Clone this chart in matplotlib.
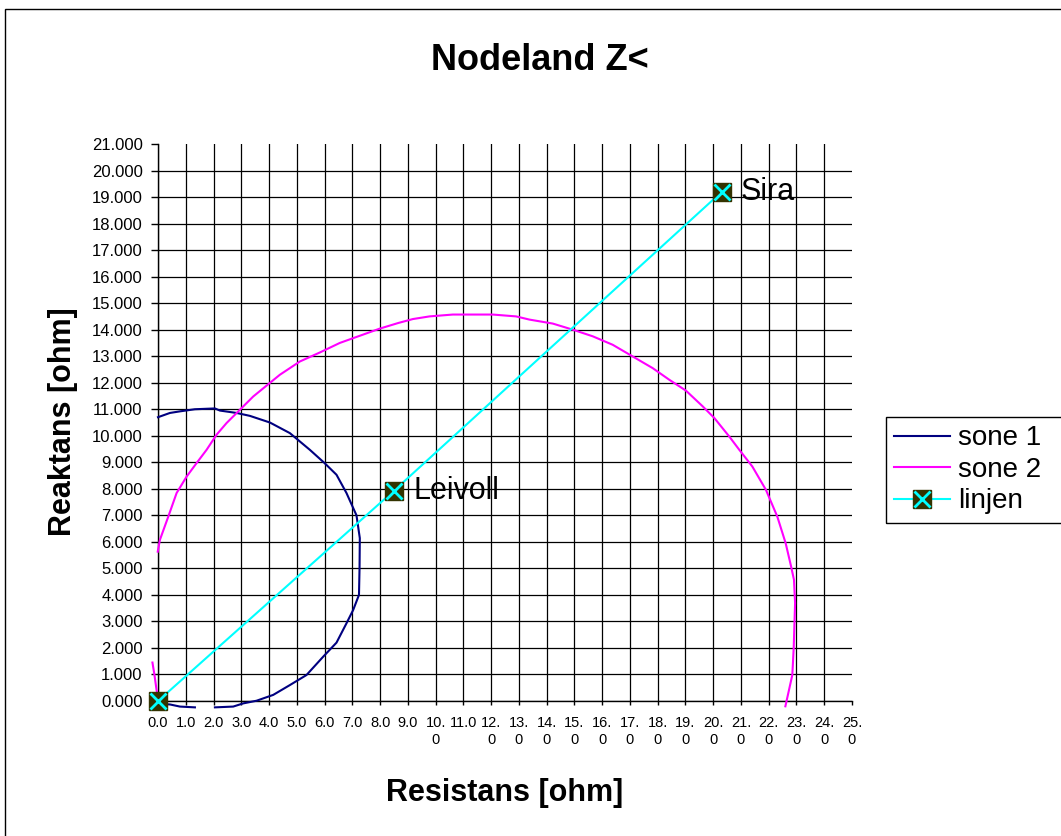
import numpy as np
import matplotlib
matplotlib.use("Agg")
import matplotlib.pyplot as plt
from matplotlib.patches import Rectangle
from matplotlib.lines import Line2D

plt.rcParams['font.family'] = ['Liberation Sans', 'DejaVu Sans']

# sone 1 (navy) - R, X i ohm
sone1_r = [0.00, 0.43, 0.79, 1.33, 2.05, 2.23, 2.83, 3.31, 4.03, 4.75, 5.47, 6.00, 6.43, 6.79,
           7.15, 7.27, 7.26, 7.24, 7.03, 6.79, 6.43, 5.95, 5.35, 4.75, 4.15, 3.55, 3.07, 2.71,
           2.05, np.nan, 1.33, 0.79, 0.43, 0.07]
sone1_x = [10.70, 10.86, 10.92, 11.00, 11.03, 10.95, 10.86, 10.75, 10.50, 10.10, 9.47, 8.97, 8.53, 7.84,
           7.00, 6.14, 5.00, 4.00, 3.43, 2.93, 2.20, 1.67, 0.98, 0.60, 0.23, 0.01, -0.09, -0.21,
           -0.24, np.nan, -0.24, -0.21, -0.13, -0.11]

# sone 2 (magenta)
sone2_r = [-0.01, 0.07, 0.37, 0.67, 1.03, 1.39, 1.75, 2.11, 2.47, 2.95, 3.43, 3.91, 4.39, 5.11,
           5.83, 6.55, 7.27, 7.99, 8.65, 9.18, 9.78, 10.62, 12.06, 12.90, 13.38, 14.22, 14.94,
           15.66, 16.38, 17.10, 17.82, 18.42, 19.02, 19.62, 20.04, 20.58, 20.94, 21.41, 21.90,
           22.31, 22.61, 22.80, 22.91, 22.95, 22.90, 22.85, 22.60, np.nan, -0.20, -0.13, -0.05, 0.02]
sone2_x = [5.63, 6.08, 6.95, 7.84, 8.46, 8.97, 9.47, 10.04, 10.48, 10.98, 11.48, 11.89, 12.30, 12.80,
           13.14, 13.50, 13.77, 14.04, 14.25, 14.40, 14.50, 14.57, 14.57, 14.50, 14.38, 14.23, 14.00,
           13.75, 13.43, 12.99, 12.55, 12.11, 11.70, 11.11, 10.67, 9.97, 9.47, 8.84, 7.96,
           6.95, 5.95, 5.10, 4.57, 3.69, 2.00, 0.98, -0.20, np.nan, 1.45, 1.00, 0.40, 0.00]

# linjen
linje_r = [0.0, 8.49, 20.30]
linje_x = [0.0, 7.92, 19.19]
linje_navn = ["", "Leivoll", "Sira"]

xticks = np.arange(0, 26)
xlabels = ["0.0", "1.0", "2.0", "3.0", "4.0", "5.0", "6.0", "7.0", "8.0", "9.0",
           "10.\n0", "11.0", "12.\n0", "13.\n0", "14.\n0", "15.\n0", "16.\n0", "17.\n0",
           "18.\n0", "19.\n0", "20.\n0", "21.\n0", "22.\n0", "23.\n0", "24.\n0", "25.\n0"]
yticks = np.arange(0, 22)

fig = plt.figure(figsize=(10.61, 8.36), dpi=100)
ax = fig.add_axes([158/1061, 1-701/836, (852-158)/1061, (701-144)/836])

ax.plot(sone1_r, sone1_x, color='#000080', lw=1.5, clip_on=False, zorder=3)
ax.plot(sone2_r, sone2_x, color='#FF00FF', lw=1.5, clip_on=False, zorder=3)
l1, = ax.plot(linje_r, linje_x, color='#00FFFF', lw=1.5, marker='s', ms=13.5,
              mfc='#333300', mec='#333300', mew=1, clip_on=False, zorder=4)
l2, = ax.plot(linje_r, linje_x, ls='none', marker='x', ms=11, mec='#00FFFF', mew=2,
              clip_on=False, zorder=5)

for r, x, navn in zip(linje_r, linje_x, linje_navn):
    if navn:
        ax.annotate(navn, (r, x), xytext=(14, 0), textcoords='offset points',
                    fontsize=22, va='center', ha='left')

ax.set_xlim(0, 25)
ax.set_ylim(0, 21)
ax.set_xticks(xticks)
ax.set_xticklabels(xlabels, fontsize=10.5, linespacing=1.25)
ax.set_yticks(yticks)
ax.set_yticklabels(["%.3f" % v for v in yticks], fontsize=12)
ax.tick_params(axis='x', direction='out', length=3, width=1, pad=8)
ax.tick_params(axis='y', direction='out', length=5, width=1, pad=6)
ax.grid(True, color='black', lw=0.9)
ax.get_xgridlines()[-1].set_visible(False)
ax.get_ygridlines()[-1].set_visible(False)
for s in ['top', 'right']:
    ax.spines[s].set_visible(False)
for s in ['left', 'bottom']:
    ax.spines[s].set_linewidth(1)

fig.text(540/1061, 1-60/836, "Nodeland Z<", fontsize=26, fontweight='bold', ha='center', va='center')
fig.text(505/1061, 1-801/836, "Resistans [ohm]", fontsize=22, fontweight='bold', ha='center', va='baseline')
fig.text(63/1061, 1-422/836, "Reaktans [ohm]", fontsize=22, fontweight='bold', ha='center', va='center',
         rotation=90)

h1 = Line2D([], [], color='#000080', lw=1.5)
h2 = Line2D([], [], color='#FF00FF', lw=1.5)
leg = fig.legend([h1, h2, (l1, l2)], ["sone 1", "sone 2", "linjen"], loc='upper left',
                 bbox_to_anchor=(886/1061, 1-417/836), fontsize=20, frameon=False,
                 handlelength=2.0, handletextpad=0.3,
                 labelspacing=0.2, borderpad=0.3, borderaxespad=0)

# legend frame runs off the right edge like in the original
fig.canvas.draw()
bb = leg.get_window_extent()
fig.patches.append(Rectangle((bb.x0, bb.y0), 400, bb.height, transform=None,
                             fill=False, edgecolor='black', lw=1))

fig.patches.append(Rectangle((5/1061, -0.1), 2, 0.1 + 1 - 9/836, transform=fig.transFigure,
                             fill=False, edgecolor='black', lw=1))

fig.savefig("out.png", dpi=100)
